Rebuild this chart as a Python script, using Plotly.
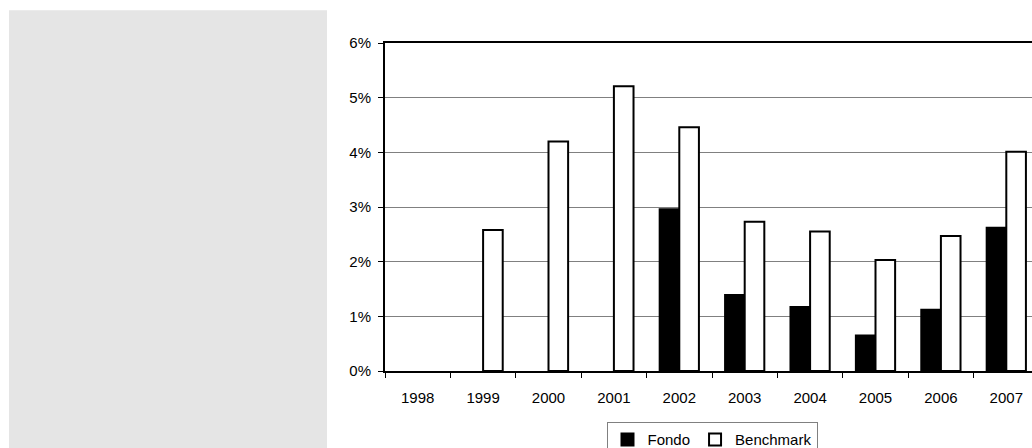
import plotly.graph_objects as go

# Annual returns, Fondo vs. Benchmark
years = ["1998", "1999", "2000", "2001", "2002", "2003", "2004", "2005", "2006", "2007"]
fondo = [None, None, None, None, 0.0296, 0.0139, 0.0117, 0.0065, 0.0112, 0.0262]
benchmark = [None, 0.0258, 0.0420, 0.0521, 0.0446, 0.0273, 0.0255, 0.0203, 0.0247, 0.0401]
y_ticks = [0, 0.01, 0.02, 0.03, 0.04, 0.05, 0.06]

FONT = "Liberation Sans, Arial, sans-serif"

fig = go.Figure()
fig.add_trace(go.Bar(
    x=years, y=fondo, name="Fondo",
    marker=dict(color="#000000", line=dict(color="#000000", width=2)),
))
fig.add_trace(go.Bar(
    x=years, y=benchmark, name="Benchmark",
    marker=dict(color="#ffffff", line=dict(color="#000000", width=2)),
))

# grey side panel
fig.add_shape(
    type="rect", xref="paper", yref="paper",
    x0=(9 - 385) / 647, x1=(327 - 385) / 647,
    y0=-0.3, y1=(371.3 - 10) / 328.6,
    fillcolor="#e5e5e5", line=dict(width=0), layer="below",
)

fig.update_layout(
    width=1032, height=448,
    margin=dict(l=385, r=0, t=43, b=77, autoexpand=False),
    paper_bgcolor="#ffffff", plot_bgcolor="#ffffff",
    barmode="group", bargap=0.4, bargroupgap=0,
    font=dict(family=FONT, size=15, color="#000000"),
    showlegend=True,
    legend=dict(
        orientation="h", x=(712 - 385) / 647, xanchor="center",
        y=(371.3 - 422.7) / 328.6, yanchor="top",
        bordercolor="#808080", borderwidth=1, bgcolor="#ffffff",
        font=dict(family=FONT, size=15, color="#000000"),
        itemwidth=30, tracegroupgap=0,
    ),
    xaxis=dict(
        type="category", range=[-0.5, -0.5 + 647 / 65.4],
        showline=True, linecolor="#000000", linewidth=2, mirror=True,
        ticks="outside", tickson="boundaries", ticklen=5, tickwidth=1, tickcolor="#000000",
        showgrid=False, tickfont=dict(size=15), ticklabelstandoff=12,
    ),
    yaxis=dict(
        range=[0, 0.06], tickvals=y_ticks, tickformat=".0%",
        showline=True, linecolor="#000000", linewidth=2,
        ticks="outside", ticklen=5, tickwidth=1, tickcolor="#000000",
        showgrid=True, gridcolor="#808080", gridwidth=1, zeroline=False,
        tickfont=dict(size=15), ticklabelstandoff=4,
    ),
)

fig.write_html("out.html")
